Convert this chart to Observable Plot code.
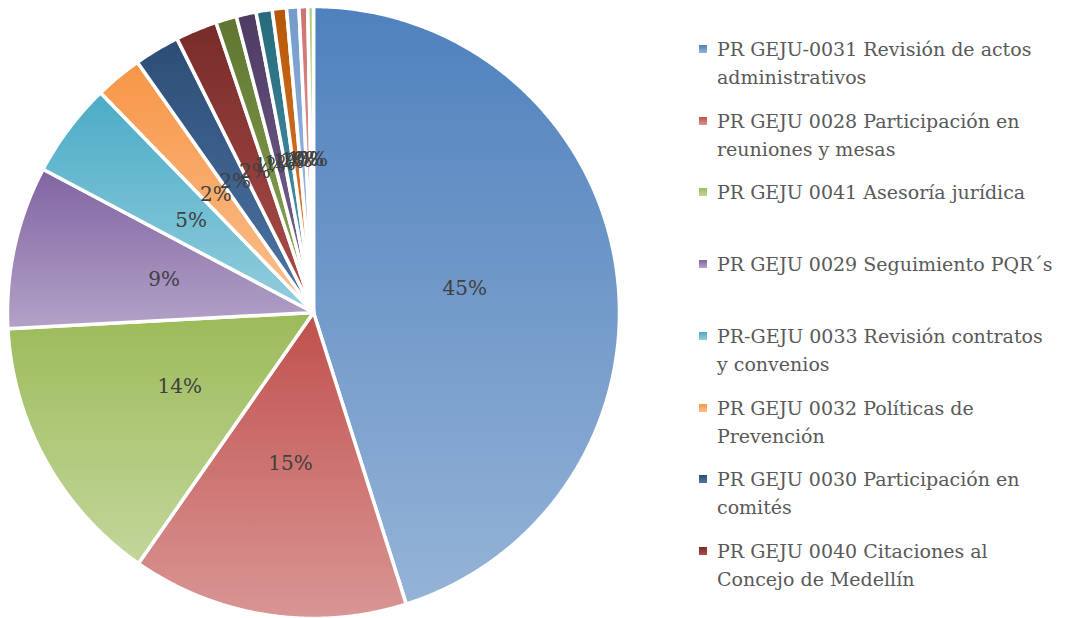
<!DOCTYPE html>
<html><head><meta charset="utf-8">
<script src="https://cdn.jsdelivr.net/npm/d3@7"></script>
<script src="https://cdn.jsdelivr.net/npm/@observablehq/plot@0.6"></script>
<style>
body{margin:0;background:#fff;}
#wrap{position:relative;width:1068px;height:618px;overflow:hidden;}
#legend{position:absolute;left:699px;top:35px;font-family:"DejaVu Serif";font-size:19px;color:#595959;}
.item{position:absolute;left:0;white-space:pre-line;line-height:28px;padding-left:18px;width:360px;}
.sw{position:absolute;left:0;top:10px;width:8px;height:8px;}
</style></head><body><div id="wrap"><div id="legend"></div></div>
<script>
// Slice names (only the first 8 appear in the legend)
const categories = [
  "PR GEJU-0031 Revisión de actos\nadministrativos",
  "PR GEJU 0028 Participación en\nreuniones y mesas",
  "PR GEJU 0041 Asesoría jurídica",
  "PR GEJU 0029 Seguimiento PQR´s",
  "PR-GEJU 0033 Revisión contratos\ny convenios",
  "PR GEJU 0032 Políticas de\nPrevención",
  "PR GEJU 0030 Participación en\ncomités",
  "PR GEJU 0040 Citaciones al\nConcejo de Medellín",
  "Otro 9", "Otro 10", "Otro 11", "Otro 12", "Otro 13", "Otro 14", "Otro 15"
];
const legendCount = 8;
// Percent shares
const values = [45.1, 14.6, 14.45, 8.6, 5.0, 2.49, 2.4, 2.2, 1.1, 1.05, 0.85, 0.75, 0.65, 0.46, 0.3];
const baseColors  = ["#4F81BD","#C0504D","#9BBB59","#8064A2","#4BACC6","#F79646","#2C4D75","#772C2A","#5F7530","#4D3B62","#276A7C","#B65708","#729ACA","#CD7371","#AFC97A"];
const lightColors = ["#95B3D7","#D99694","#C3D69B","#B3A2C7","#93CDDD","#FAC090","#4E76A6","#AD4E4B","#8EAA57","#7B669A","#4C9CB1","#E48238","#A9C3E3","#E3A9A8","#D0E0B0"];

const data = categories.map((c, i) => ({name: c, value: values[i], i}));
const total = d3.sum(values);
const arcs = d3.pie().sort(null).value(d => d.value)(data);

const polys = arcs.map(a => {
  const n = Math.max(2, Math.ceil((a.endAngle - a.startAngle) / 0.005));
  const pts = [{x: 0, y: 0}];
  for (let k = 0; k <= n; k++) {
    const t = a.startAngle + (a.endAngle - a.startAngle) * k / n;
    pts.push({x: Math.sin(t), y: Math.cos(t)});
  }
  return pts;
});
const labels = arcs.map(a => {
  const m = (a.startAngle + a.endAngle) / 2;
  return {x: 0.5 * Math.sin(m), y: 0.5 * Math.cos(m), text: Math.round(a.data.value / total * 100) + "%"};
});

const svg = Plot.plot({
  width: 640, height: 618,
  marginLeft: 7, marginRight: 21, marginTop: 6, marginBottom: 0,
  x: {domain: [-1, 1], axis: null},
  y: {domain: [-1, 1], axis: null},
  style: {fontFamily: "DejaVu Serif", background: "white"},
  marks: [
    ...polys.map((pts, i) => Plot.line(pts, {x: "x", y: "y", curve: "linear-closed", fill: `url(#g${i})`, stroke: "white", strokeWidth: 3.5, strokeLinejoin: "round"})),
    Plot.text(labels, {x: "x", y: "y", text: "text", fill: "#404040", fontSize: 20})
  ]
});
const defs = d3.select(svg).insert("defs", ":first-child");
baseColors.forEach((c, i) => {
  const g = defs.append("linearGradient").attr("id", "g" + i).attr("x1", 0).attr("y1", 0).attr("x2", 0).attr("y2", 1);
  g.append("stop").attr("offset", "0%").attr("stop-color", c);
  g.append("stop").attr("offset", "100%").attr("stop-color", lightColors[i]);
});
svg.style.position = "absolute";
svg.style.left = "0px";
svg.style.top = "0px";
document.getElementById("wrap").prepend(svg);

const legend = document.getElementById("legend");
categories.slice(0, legendCount).forEach((c, i) => {
  const it = document.createElement("div");
  it.className = "item";
  it.style.top = (i * 71.7) + "px";
  const sw = document.createElement("div");
  sw.className = "sw";
  sw.style.background = `linear-gradient(${baseColors[i]}, ${lightColors[i]})`;
  it.appendChild(sw);
  it.appendChild(document.createTextNode(c));
  legend.appendChild(it);
});
</script></body></html>
